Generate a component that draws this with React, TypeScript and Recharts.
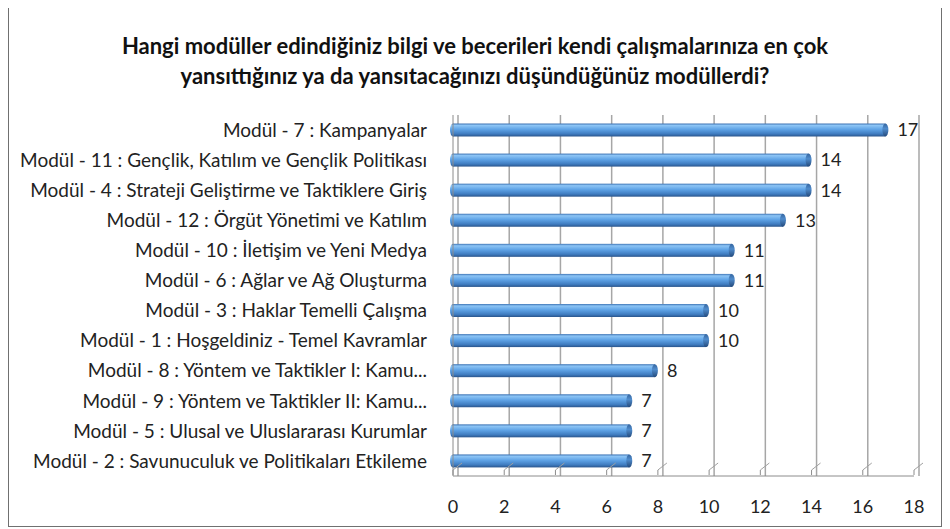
import { Bar, BarChart, CartesianGrid, LabelList, XAxis, YAxis } from "recharts";

const modules = [
  "Modül - 7 : Kampanyalar",
  "Modül - 11 : Gençlik, Katılım ve Gençlik Politikası",
  "Modül - 4 : Strateji Geliştirme ve Taktiklere Giriş",
  "Modül - 12 : Örgüt Yönetimi ve Katılım",
  "Modül - 10 : İletişim ve Yeni Medya",
  "Modül - 6 : Ağlar ve Ağ Oluşturma",
  "Modül - 3 : Haklar Temelli Çalışma",
  "Modül - 1 : Hoşgeldiniz - Temel Kavramlar",
  "Modül - 8 : Yöntem ve Taktikler I: Kamu...",
  "Modül - 9 : Yöntem ve Taktikler II: Kamu...",
  "Modül - 5 : Ulusal ve Uluslararası Kurumlar",
  "Modül - 2 : Savunuculuk ve Politikaları Etkileme",
];
const counts = [17, 14, 14, 13, 11, 11, 10, 10, 8, 7, 7, 7];
const xTicks = [0, 2, 4, 6, 8, 10, 12, 14, 16, 18];
const titleLines = [
  "Hangi modüller edindiğiniz bilgi ve becerileri kendi çalışmalarınıza en çok",
  "yansıttığınız ya da yansıtacağınızı düşündüğünüz  modüllerdi?",
];

const data = modules.map((m, i) => ({ module: m, count: counts[i] }));

const FONT = "Lato, 'Open Sans', sans-serif";
const X_MAX = 18;

// horizontal cylinder with a rounded cap at the end
const Cylinder = (props: any) => {
  const { x, y, width, height } = props;
  if (!width || width <= 0) return null;
  const ry = height / 2;
  const rx = 3;
  return (
    <g>
      <ellipse cx={x} cy={y + ry} rx={rx} ry={ry} fill="url(#cyl)" />
      <rect x={x} y={y} width={width - rx} height={height} fill="url(#cyl)" />
      <ellipse cx={x + width - rx} cy={y + ry} rx={rx} ry={ry} fill="url(#cap)" />
    </g>
  );
};

// x tick with the little slanted floor line of the 3D plot
const FloorTick = (props: any) => {
  const { x, y, payload } = props;
  return (
    <g>
      <line x1={x} y1={y - 14} x2={x} y2={y - 9} stroke="#8c8c8c" />
      <line x1={x} y1={y - 14} x2={x + 9} y2={y - 21} stroke="#a0a0a0" />
      <text x={x} y={y + 29} textAnchor="middle" fontSize={18} fill="#222" fontFamily={FONT}>
        {payload.value}
      </text>
    </g>
  );
};

export default function App() {
  return (
    <div
      style={{
        position: "relative",
        width: 940,
        height: 524,
        marginTop: -5,
        marginLeft: -1,
        background: "#fff",
        fontFamily: FONT,
      }}
    >
      {/* chart frame */}
      <div
        style={{
          position: "absolute",
          left: 1,
          top: 4,
          right: 5,
          bottom: 0,
          border: "1px solid #707070",
          pointerEvents: "none",
        }}
      />
      <div
        style={{
          position: "absolute",
          left: 0,
          top: 28,
          width: 950,
          marginLeft: -7,
          textAlign: "center",
          fontSize: 22,
          fontWeight: 700,
          lineHeight: "30px",
          color: "#111",
        }}
      >
        {titleLines.map((t) => (
          <div key={t}>{t}</div>
        ))}
      </div>
      <BarChart
        width={930}
        height={515}
        data={data}
        layout="vertical"
        barCategoryGap={8.5}
        margin={{ top: 112, right: 23, bottom: 0, left: 0 }}
      >
        <defs>
          <linearGradient id="cyl" x1="0" y1="0" x2="0" y2="1">
            <stop offset="0%" stopColor="#3f74b4" />
            <stop offset="15%" stopColor="#8cc4f5" />
            <stop offset="45%" stopColor="#5fa3e6" />
            <stop offset="80%" stopColor="#3f7cc0" />
            <stop offset="100%" stopColor="#2a558c" />
          </linearGradient>
          <linearGradient id="cap" x1="0" y1="0" x2="0" y2="1">
            <stop offset="0%" stopColor="#35659f" />
            <stop offset="40%" stopColor="#4f8bcb" />
            <stop offset="100%" stopColor="#244a7c" />
          </linearGradient>
        </defs>
        <CartesianGrid
          horizontal={false}
          stroke="#a6a6a6"
          strokeWidth={1.5}
          verticalCoordinatesGenerator={({ offset }: any) =>
            xTicks.map((t) => offset.left + (t / X_MAX) * offset.width + 5)
          }
        />
        <XAxis
          type="number"
          domain={[0, X_MAX]}
          ticks={xTicks}
          interval={0}
          height={42}
          axisLine={{ stroke: "#8c8c8c" }}
          tickLine={false}
          tick={<FloorTick />}
        />
        <YAxis
          type="category"
          dataKey="module"
          width={446}
          interval={0}
          axisLine={{ stroke: "#8c8c8c" }}
          tickLine={false}
          tickSize={0}
          tickMargin={26}
          tick={{ fontSize: 19, fill: "#222", fontFamily: FONT }}
        />
        <Bar dataKey="count" shape={<Cylinder />} isAnimationActive={false}>
          <LabelList
            dataKey="count"
            position="right"
            offset={9}
            fill="#222"
            fontSize={18}
            fontFamily={FONT}
          />
        </Bar>
      </BarChart>
    </div>
  );
}
